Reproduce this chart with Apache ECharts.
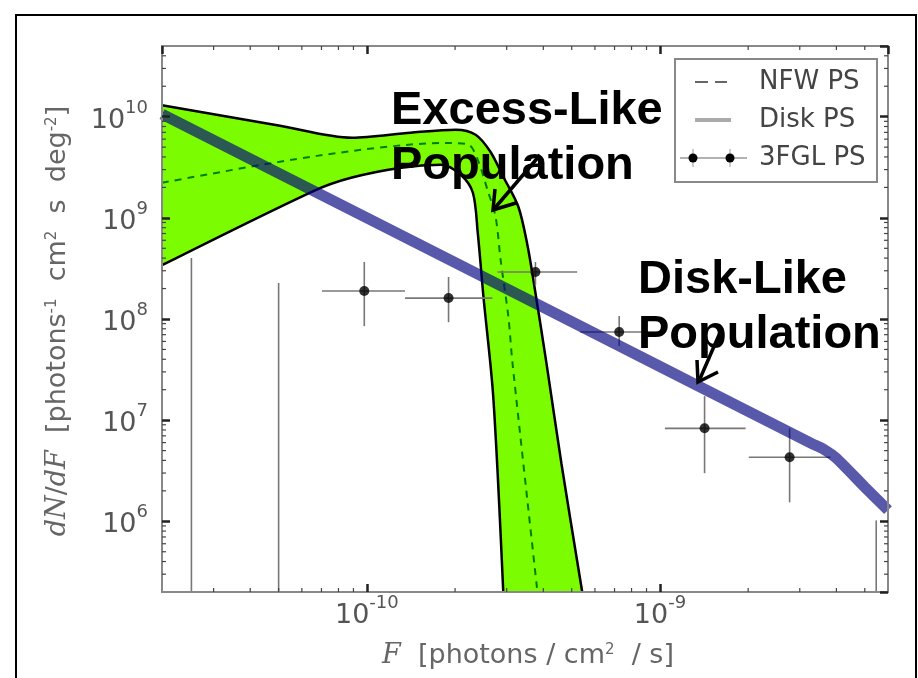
<!DOCTYPE html>
<html><head><meta charset="utf-8">
<script src="https://cdn.jsdelivr.net/npm/echarts@6/dist/echarts.min.js"></script>
<style>html,body{margin:0;padding:0;background:#fff}#c{width:918px;height:678px}</style>
</head><body><div id="c"></div>
<script>
// ---- axis ranges & ticks ----
const xMin = 2e-11, xMax = 6e-9;
const yMin = 2e5, yMax = 5e10;
const xMinorTicks = [3e-11,4e-11,5e-11,6e-11,7e-11,8e-11,9e-11,2e-10,3e-10,4e-10,5e-10,6e-10,7e-10,8e-10,9e-10,2e-9,3e-9,4e-9,5e-9];
const yMinorTicks = [3e5,4e5,5e5,6e5,7e5,8e5,9e5,2e6,3e6,4e6,5e6,6e6,7e6,8e6,9e6,2e7,3e7,4e7,5e7,6e7,7e7,8e7,9e7,2e8,3e8,4e8,5e8,6e8,7e8,8e8,9e8,2e9,3e9,4e9,5e9,6e9,7e9,8e9,9e9,2e10,3e10,4e10];

// ---- NFW PS band (upper / lower boundaries, median) ----
const nfwUpperF = [2e-11, 5e-11, 8.9e-11, 1.41e-10, 2.01e-10, 2.35e-10, 2.64e-10, 2.92e-10, 3.29e-10, 3.53e-10, 3.70e-10, 4.10e-10, 4.61e-10, 5.43e-10];
const nfwUpperN = [1.3e10, 8.2e9, 6.2e9, 6.95e9, 7.43e9, 6.64e9, 4.5e9, 2.55e9, 1.28e9, 5.4e8, 2.43e8, 3.66e7, 3.75e6, 2e5];
const nfwLowerF = [2e-11, 6.6e-11, 8.83e-11, 1.31e-10, 1.79e-10, 2.09e-10, 2.30e-10, 2.39e-10, 2.50e-10, 2.70e-10, 2.92e-10];
const nfwLowerN = [3.4e8, 1.85e9, 2.49e9, 3.13e9, 3.35e9, 2.67e9, 1.77e9, 7.1e8, 1.65e8, 1.69e7, 2e5];
const nfwMedF = [2e-11, 6.76e-11, 1.86e-10, 2.22e-10, 2.39e-10, 2.58e-10, 2.75e-10, 2.86e-10, 3.04e-10, 3.14e-10, 3.82e-10];
const nfwMedN = [2.22e9, 4.1e9, 5.5e9, 5.3e9, 3.75e9, 1.89e9, 1.02e9, 3.84e8, 1.05e8, 3.66e7, 2e5];

// ---- Disk PS ----
const diskF = [2e-11, 1e-10, 1e-9, 3.3e-9, 3.6e-9, 4.0e-9, 5.0e-9, 6e-9];
const diskN = [1.06e10, 1.0e9, 3.39e7, 5.85e6, 5.2e6, 4.2e6, 2.18e6, 1.29e6];

// ---- 3FGL PS ----
const fglF   = [9.8e-11, 1.9e-10, 3.76e-10, 7.26e-10, 1.42e-9, 2.77e-9];
const fglN   = [1.89e8, 1.61e8, 2.92e8, 7.43e7, 8.3e6, 4.3e6];
const fglFlo = [7.03e-11, 1.35e-10, 2.79e-10, 5.35e-10, 1.04e-9, 2.01e-9];
const fglFhi = [1.35e-10, 2.68e-10, 5.22e-10, 1.02e-9, 1.96e-9, 3.82e-9];
const fglNlo = [8.5e7, 9.3e7, 2.17e8, 5.4e7, 2.99e6, 1.54e6];
const fglNhi = [3.66e8, 2.6e8, 3.66e8, 1.07e8, 1.73e7, 8.3e6];
// bins whose value lies below the plotted range: only the upper error reaches in
const limF   = [2.52e-11, 5e-11, 5.47e-9];
const limNhi = [4.0e8, 2.27e8, 1.02e6];

const zip = (a, b) => a.map((v, i) => [v, b[i]]);
const FONT = 'DejaVu Sans';

function expLabel(v) {
  const e = Math.log10(v), r = Math.round(e);
  if (Math.abs(e - r) > 1e-6) return '';
  return '{b|10}{e|' + (r < 0 ? '-' + (-r) : r) + '}';
}
const labelRich = {
  b: {fontSize: 27, fontFamily: FONT, color: '#555', lineHeight: 35, verticalAlign: 'bottom'},
  e: {fontSize: 18, fontFamily: FONT, color: '#555', lineHeight: 20, verticalAlign: 'top'}
};

const chart = echarts.init(document.getElementById('c'), null, {renderer: 'canvas'});
const tickStyle = {show: true, inside: true, length: 8, lineStyle: {color: '#222', width: 2.5}};

chart.setOption({
  animation: false,
  backgroundColor: '#fff',
  grid: {left: 162, top: 46, right: 30, bottom: 86, show: true, z: 10,
         backgroundColor: 'transparent', borderColor: '#888', borderWidth: 2},
  xAxis: [
    {type: 'log', logBase: 10, min: xMin, max: xMax, position: 'bottom', z: 10,
     axisLine: {show: false}, axisTick: tickStyle, splitLine: {show: false},
     axisLabel: {formatter: expLabel, rich: labelRich, margin: 2, showMinLabel: false, showMaxLabel: false}},
    {type: 'log', logBase: 10, min: xMin, max: xMax, position: 'top', z: 10,
     axisLine: {show: false}, axisTick: tickStyle, splitLine: {show: false}, axisLabel: {show: false}}
  ],
  yAxis: [
    {type: 'log', logBase: 10, min: yMin, max: yMax, position: 'left', z: 10,
     axisLine: {show: false}, axisTick: tickStyle, splitLine: {show: false},
     axisLabel: {formatter: expLabel, rich: labelRich, margin: 14, showMinLabel: false, showMaxLabel: false}},
    {type: 'log', logBase: 10, min: yMin, max: yMax, position: 'right', z: 10,
     axisLine: {show: false}, axisTick: tickStyle, splitLine: {show: false}, axisLabel: {show: false}}
  ],
  series: [
    // green band: fill under upper boundary, then blank under lower boundary
    {type: 'line', data: zip(nfwUpperF, nfwUpperN), smooth: 0.3, symbol: 'none', z: 1,
     lineStyle: {color: '#000', width: 2.5}, areaStyle: {color: '#7cfc00', opacity: 1, origin: 'start'}},
    {type: 'line', data: zip(nfwLowerF, nfwLowerN), smooth: 0.3, symbol: 'none', z: 1,
     lineStyle: {color: '#000', width: 2.5}, areaStyle: {color: '#fff', opacity: 1, origin: 'start'}},
    {type: 'line', data: zip(nfwMedF, nfwMedN), smooth: 0.3, symbol: 'none', z: 2,
     lineStyle: {color: '#008000', width: 2, type: [7, 6]}},
    // 3FGL error bars
    {type: 'custom', z: 3, clip: true,
     data: fglF.map((f, i) => [f, fglN[i], fglFlo[i], fglFhi[i], fglNlo[i], fglNhi[i]]),
     encode: {x: [0, 2, 3], y: [1, 4, 5]},
     renderItem: (params, api) => {
       const c = api.coord([api.value(0), api.value(1)]);
       const l = api.coord([api.value(2), api.value(1)]);
       const r = api.coord([api.value(3), api.value(1)]);
       const lo = api.coord([api.value(0), api.value(4)]);
       const hi = api.coord([api.value(0), api.value(5)]);
       const st = {stroke: '#777', lineWidth: 1.6};
       return {type: 'group', children: [
         {type: 'line', shape: {x1: l[0], y1: c[1], x2: r[0], y2: c[1]}, style: st},
         {type: 'line', shape: {x1: c[0], y1: hi[1], x2: c[0], y2: lo[1]}, style: st}
       ]};
     }},
    {type: 'custom', z: 3, clip: true,
     data: zip(limF, limNhi),
     renderItem: (params, api) => {
       const hi = api.coord([api.value(0), api.value(1)]);
       const cs = params.coordSys;
       return {type: 'line', shape: {x1: hi[0], y1: hi[1], x2: hi[0], y2: cs.y + cs.height},
               style: {stroke: '#777', lineWidth: 1.6}};
     }},
    {type: 'scatter', data: zip(fglF, fglN), symbolSize: 10, z: 4, itemStyle: {color: '#000'}},
    // Disk PS
    {type: 'line', data: zip(diskF, diskN), smooth: 0.2, symbol: 'none', z: 5,
     lineStyle: {color: 'rgba(0,0,128,0.65)', width: 11, cap: 'butt'}},
    // minor ticks
    {type: 'custom', z: 20, clip: false, silent: true,
     data: xMinorTicks.map(v => [v, yMin]),
     renderItem: (params, api) => {
       const p = api.coord([api.value(0), api.value(1)]);
       const cs = params.coordSys;
       const st = {stroke: '#444', lineWidth: 1.2};
       return {type: 'group', children: [
         {type: 'line', shape: {x1: p[0], y1: cs.y + cs.height, x2: p[0], y2: cs.y + cs.height - 4}, style: st},
         {type: 'line', shape: {x1: p[0], y1: cs.y, x2: p[0], y2: cs.y + 4}, style: st}
       ]};
     }},
    {type: 'custom', z: 20, clip: false, silent: true,
     data: yMinorTicks.map(v => [xMin, v]),
     renderItem: (params, api) => {
       const p = api.coord([api.value(0), api.value(1)]);
       const cs = params.coordSys;
       const st = {stroke: '#444', lineWidth: 1.2};
       return {type: 'group', children: [
         {type: 'line', shape: {x1: cs.x, y1: p[1], x2: cs.x + 4, y2: p[1]}, style: st},
         {type: 'line', shape: {x1: cs.x + cs.width, y1: p[1], x2: cs.x + cs.width - 4, y2: p[1]}, style: st}
       ]};
     }}
  ],
  graphic: [
    // outer frame
    {type: 'rect', z: 100, shape: {x: 16, y: 15, width: 900, height: 700}, style: {fill: 'none', stroke: '#000', lineWidth: 2}},
    // axis titles
    {type: 'text', z: 100, x: 528, y: 656, style: {
      text: '{i|F}  [photons / cm{s|2}  / s]', align: 'center', verticalAlign: 'middle',
      rich: {i: {fontFamily: 'DejaVu Serif', fontStyle: 'italic', fontSize: 27, fill: '#666'},
             s: {fontSize: 15, fill: '#666', fontFamily: FONT, verticalAlign: 'top', lineHeight: 14}},
      fontFamily: FONT, fontSize: 27, fill: '#666'}},
    {type: 'text', z: 100, x: 58, y: 321, rotation: Math.PI / 2, style: {
      text: '{i|dN}/{i|dF}  [photons{s|-1}  cm{s|2}  s  deg{s|-2}]', align: 'center', verticalAlign: 'middle',
      rich: {i: {fontFamily: 'DejaVu Serif', fontStyle: 'italic', fontSize: 27, fill: '#666'},
             s: {fontSize: 15, fill: '#666', fontFamily: FONT, verticalAlign: 'top', lineHeight: 14}},
      fontFamily: FONT, fontSize: 27, fill: '#666'}},
    // legend
    {type: 'rect', z: 100, shape: {x: 675, y: 59, width: 202, height: 123}, style: {fill: '#fff', stroke: '#888', lineWidth: 2}},
    {type: 'line', z: 101, shape: {x1: 695, y1: 82, x2: 708, y2: 82}, style: {stroke: '#666', lineWidth: 2}},
    {type: 'line', z: 101, shape: {x1: 715, y1: 82, x2: 727, y2: 82}, style: {stroke: '#666', lineWidth: 2}},
    {type: 'line', z: 101, shape: {x1: 695, y1: 120, x2: 731, y2: 120}, style: {stroke: '#aaa', lineWidth: 4}},
    {type: 'line', z: 101, shape: {x1: 680, y1: 158, x2: 747, y2: 158}, style: {stroke: '#999', lineWidth: 1.5}},
    {type: 'line', z: 101, shape: {x1: 693, y1: 149, x2: 693, y2: 167}, style: {stroke: '#bbb', lineWidth: 1.5}},
    {type: 'line', z: 101, shape: {x1: 730, y1: 149, x2: 730, y2: 167}, style: {stroke: '#bbb', lineWidth: 1.5}},
    {type: 'circle', z: 102, shape: {cx: 693, cy: 158, r: 4.5}, style: {fill: '#000'}},
    {type: 'circle', z: 102, shape: {cx: 730, cy: 158, r: 4.5}, style: {fill: '#000'}},
    {type: 'text', z: 101, x: 759, y: 82, style: {text: 'NFW PS', fontFamily: FONT, fontSize: 26, fill: '#444', verticalAlign: 'middle'}},
    {type: 'text', z: 101, x: 759, y: 120, style: {text: 'Disk PS', fontFamily: FONT, fontSize: 26, fill: '#444', verticalAlign: 'middle'}},
    {type: 'text', z: 101, x: 759, y: 158, style: {text: '3FGL PS', fontFamily: FONT, fontSize: 26, fill: '#444', verticalAlign: 'middle'}},
    // annotations
    {type: 'text', z: 110, x: 391, y: 88, style: {text: 'Excess-Like', fontFamily: 'Liberation Sans', fontWeight: 'bold', fontSize: 47, fill: '#000', verticalAlign: 'alphabetic'}},
    {type: 'text', z: 110, x: 391, y: 143, style: {text: 'Population', fontFamily: 'Liberation Sans', fontWeight: 'bold', fontSize: 47, fill: '#000', verticalAlign: 'alphabetic'}},
    {type: 'text', z: 110, x: 638, y: 257, style: {text: 'Disk-Like', fontFamily: 'Liberation Sans', fontWeight: 'bold', fontSize: 47, fill: '#000', verticalAlign: 'alphabetic'}},
    {type: 'text', z: 110, x: 638, y: 312, style: {text: 'Population', fontFamily: 'Liberation Sans', fontWeight: 'bold', fontSize: 47, fill: '#000', verticalAlign: 'alphabetic'}},
    // arrows
    {type: 'line', z: 110, shape: {x1: 540, y1: 155, x2: 494, y2: 209}, style: {stroke: '#000', lineWidth: 3.5}},
    {type: 'polyline', z: 110, shape: {points: [[495, 189], [493, 210], [516, 203]]}, style: {stroke: '#000', lineWidth: 3.5, fill: 'none'}},
    {type: 'line', z: 110, shape: {x1: 722, y1: 328, x2: 699, y2: 381}, style: {stroke: '#000', lineWidth: 3.5}},
    {type: 'polyline', z: 110, shape: {points: [[697, 360], [698, 382], [718, 372]]}, style: {stroke: '#000', lineWidth: 3.5, fill: 'none'}}
  ]
});
</script></body></html>
